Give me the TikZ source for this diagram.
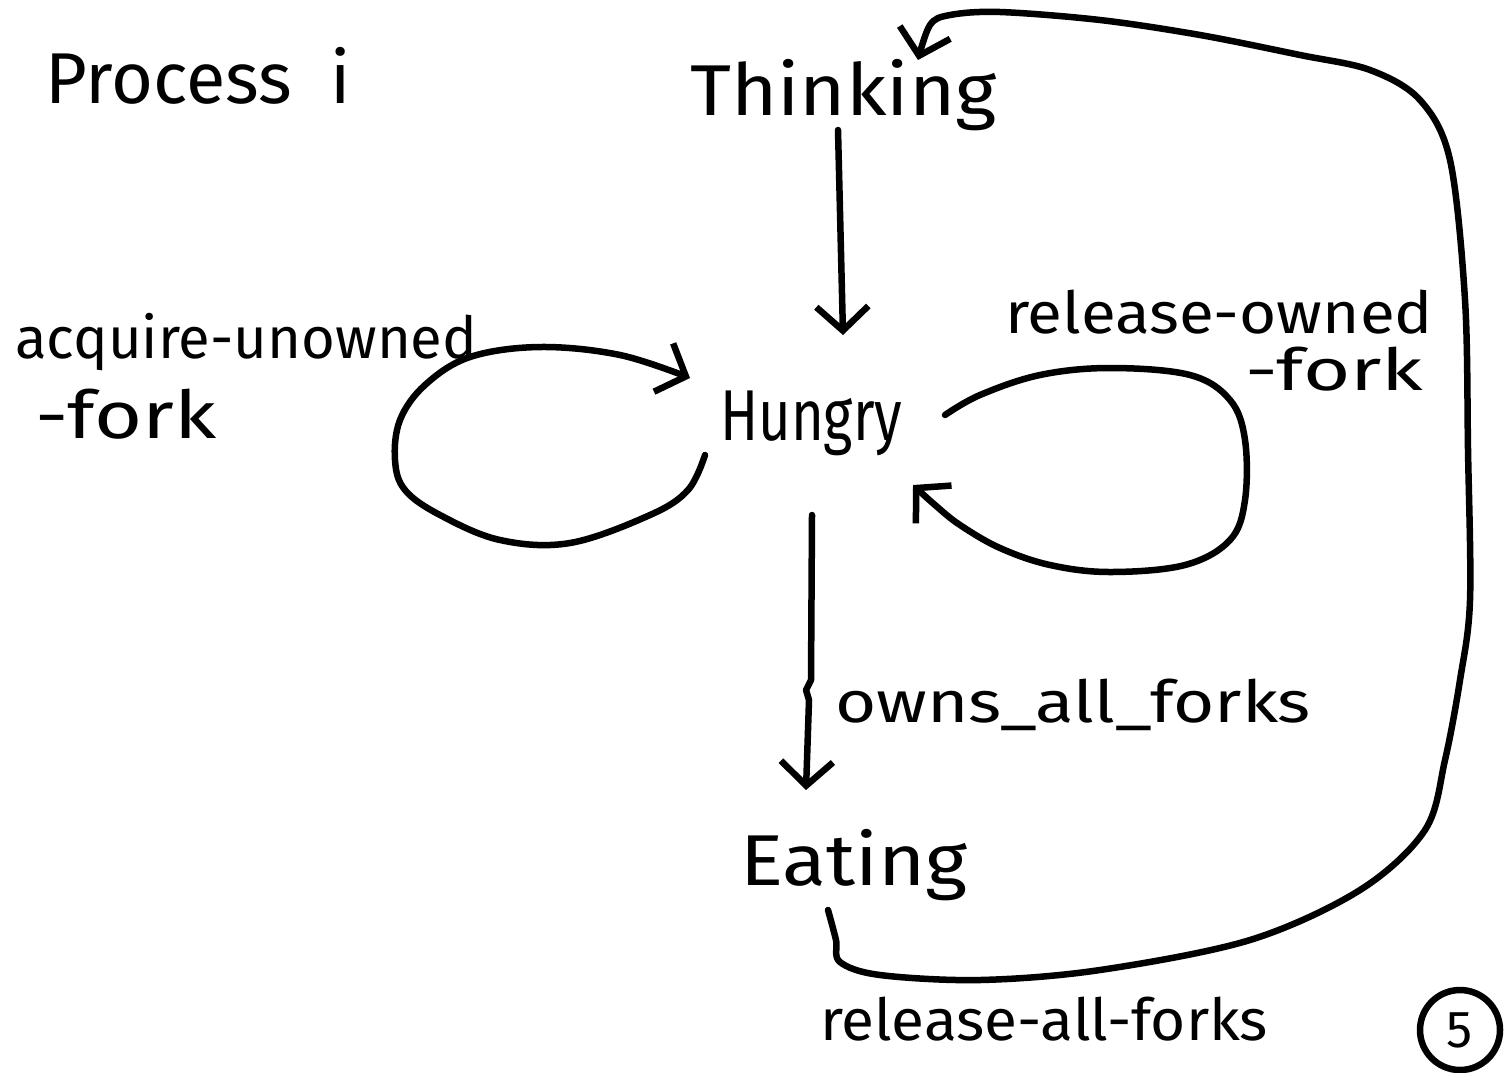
\documentclass[tikz,border=0pt]{standalone}
\usepackage{fontspec}
\setmainfont{Fira Sans}
\usetikzlibrary{arrows.meta}
\tikzset{
  ink/.style={line width=6.5pt, line cap=round, line join=round},
  arr/.style={ink, -{Straight Barb[length=24pt,width=52pt,line width=6.5pt]}},
  big/.style={inner sep=0pt, anchor=base west, font=\fontsize{72}{80}\selectfont},
  lbl/.style={inner sep=0pt, anchor=base west, font=\fontsize{58}{64}\selectfont},
}
\begin{document}
\begin{tikzpicture}[x=1pt,y=-1pt]
\useasboundingbox (0,0) rectangle (1511,1072);
% states and labels
\node[big] (proc) at (45,103) {Process\ \ i};
\node[big] (think) at (690,115) {\scalebox{1.1}[1]{Thinking}};
\node[big] (hungry) at (720,440) {\scalebox{0.78}[1]{Hungry}};
\node[big] (eat) at (740,885) {\scalebox{1.12}[1]{Eating}};
\node[lbl] (acq1) at (15,358) {acquire-unowned};
\node[lbl, font=\fontsize{66}{70}\selectfont] (acq2) at (35,438) {\scalebox{1.25}[1]{-fork}};
\node[lbl] (rel1) at (1005,333) {\scalebox{1.1}[1]{release-owned}};
\node[lbl] (rel2) at (1245,390) {\scalebox{1.4}[1]{-fork}};
\node[lbl] (owns) at (835,722) {\scalebox{1.22}[1]{owns\_all\_forks}};
\node[lbl] (rall) at (820,1040) {\scalebox{1.04}[1]{release-all-forks}};
\node[ink, draw, circle, minimum size=80pt, inner sep=0pt, font=\fontsize{52}{56}\selectfont] (five) at (1460,1030) {5};
% connector end points
\coordinate (t1) at (838,130);
\coordinate (t2) at (843,335);
\coordinate (h1) at (812,515);
\coordinate (h2) at (806,790);
\coordinate (a1) at (705,455);
\coordinate (a2) at (690,378);
\coordinate (r1) at (945,415);
\coordinate (r2) at (913,485);
\coordinate (e1) at (828,910);
\coordinate (e2) at (918,60);
% connectors
\draw[arr] (t1) -- (t2);
\draw[arr] (h1) -- (811,680) -- (806,690) -- (809,700) -- (h2);
\draw[arr] plot[smooth, tension=0.6] coordinates {(a1) (688,490) (650,515) (570,543) (500,540) (440,515) (405,490) (395,460) (400,420) (425,385) (470,357) (540,347) (620,355) (a2)};
\draw[arr] plot[smooth, tension=0.6] coordinates {(r1) (980,395) (1040,375) (1110,368) (1190,375) (1230,400) (1245,440) (1245,500) (1230,540) (1185,565) (1110,572) (1050,565) (1000,548) (960,525) (935,505) (r2)};
\draw[arr] plot[smooth, tension=0.55] coordinates {(e1) (836,940) (840,962) (880,975) (980,980) (1100,970) (1250,940) (1360,890) (1425,830) (1445,760) (1460,680) (1470,600) (1468,450) (1465,300) (1450,160) (1420,100) (1370,70) (1300,55) (1200,35) (1100,20) (1000,12) (950,15) (930,25) (e2)};
\end{tikzpicture}
\end{document}
